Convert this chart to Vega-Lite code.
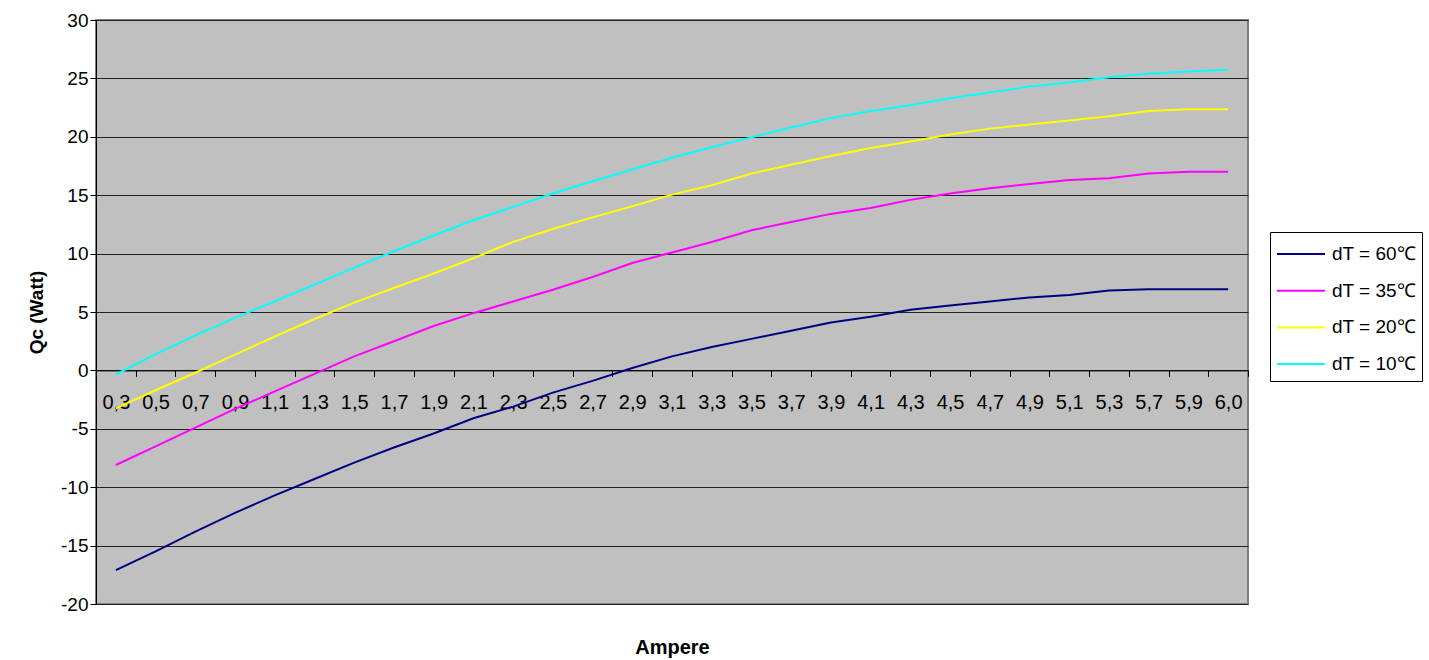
{
  "$schema": "https://vega.github.io/schema/vega-lite/v6.json",
  "autosize": {"type": "none"},
  "padding": {"left": 96, "top": 20, "right": 181, "bottom": 56},
  "width": 1152,
  "height": 584,
  "background": "#ffffff",
  "config": {
    "font": "Liberation Sans",
    "view": {"fill": "#C0C0C0", "stroke": "#808080", "strokeWidth": 2}
  },
  "data": {"values": [
    {"A":"0,3","s":"dT = 60℃","q":-17.1},{"A":"0,5","s":"dT = 60℃","q":-15.5},{"A":"0,7","s":"dT = 60℃","q":-13.8},{"A":"0,9","s":"dT = 60℃","q":-12.2},{"A":"1,1","s":"dT = 60℃","q":-10.7},{"A":"1,3","s":"dT = 60℃","q":-9.3},{"A":"1,5","s":"dT = 60℃","q":-7.9},{"A":"1,7","s":"dT = 60℃","q":-6.6},{"A":"1,9","s":"dT = 60℃","q":-5.4},{"A":"2,1","s":"dT = 60℃","q":-4.1},{"A":"2,3","s":"dT = 60℃","q":-3.1},{"A":"2,5","s":"dT = 60℃","q":-1.9},{"A":"2,7","s":"dT = 60℃","q":-0.9},{"A":"2,9","s":"dT = 60℃","q":0.2},{"A":"3,1","s":"dT = 60℃","q":1.2},{"A":"3,3","s":"dT = 60℃","q":2.0},{"A":"3,5","s":"dT = 60℃","q":2.7},{"A":"3,7","s":"dT = 60℃","q":3.4},{"A":"3,9","s":"dT = 60℃","q":4.1},{"A":"4,1","s":"dT = 60℃","q":4.6},{"A":"4,3","s":"dT = 60℃","q":5.2},{"A":"4,5","s":"dT = 60℃","q":5.55},{"A":"4,7","s":"dT = 60℃","q":5.9},{"A":"4,9","s":"dT = 60℃","q":6.25},{"A":"5,1","s":"dT = 60℃","q":6.45},{"A":"5,3","s":"dT = 60℃","q":6.85},{"A":"5,7","s":"dT = 60℃","q":6.95},{"A":"5,9","s":"dT = 60℃","q":6.95},{"A":"6,0","s":"dT = 60℃","q":6.95},
    {"A":"0,3","s":"dT = 35℃","q":-8.1},{"A":"0,5","s":"dT = 35℃","q":-6.5},{"A":"0,7","s":"dT = 35℃","q":-4.9},{"A":"0,9","s":"dT = 35℃","q":-3.3},{"A":"1,1","s":"dT = 35℃","q":-1.8},{"A":"1,3","s":"dT = 35℃","q":-0.3},{"A":"1,5","s":"dT = 35℃","q":1.2},{"A":"1,7","s":"dT = 35℃","q":2.5},{"A":"1,9","s":"dT = 35℃","q":3.8},{"A":"2,1","s":"dT = 35℃","q":4.9},{"A":"2,3","s":"dT = 35℃","q":5.9},{"A":"2,5","s":"dT = 35℃","q":6.9},{"A":"2,7","s":"dT = 35℃","q":8.0},{"A":"2,9","s":"dT = 35℃","q":9.2},{"A":"3,1","s":"dT = 35℃","q":10.1},{"A":"3,3","s":"dT = 35℃","q":11.0},{"A":"3,5","s":"dT = 35℃","q":12.0},{"A":"3,7","s":"dT = 35℃","q":12.7},{"A":"3,9","s":"dT = 35℃","q":13.4},{"A":"4,1","s":"dT = 35℃","q":13.9},{"A":"4,3","s":"dT = 35℃","q":14.6},{"A":"4,5","s":"dT = 35℃","q":15.15},{"A":"4,7","s":"dT = 35℃","q":15.6},{"A":"4,9","s":"dT = 35℃","q":15.95},{"A":"5,1","s":"dT = 35℃","q":16.3},{"A":"5,3","s":"dT = 35℃","q":16.45},{"A":"5,7","s":"dT = 35℃","q":16.85},{"A":"5,9","s":"dT = 35℃","q":17.0},{"A":"6,0","s":"dT = 35℃","q":17.0},
    {"A":"0,3","s":"dT = 20℃","q":-3.25},{"A":"0,5","s":"dT = 20℃","q":-1.7},{"A":"0,7","s":"dT = 20℃","q":-0.2},{"A":"0,9","s":"dT = 20℃","q":1.35},{"A":"1,1","s":"dT = 20℃","q":2.9},{"A":"1,3","s":"dT = 20℃","q":4.4},{"A":"1,5","s":"dT = 20℃","q":5.8},{"A":"1,7","s":"dT = 20℃","q":7.05},{"A":"1,9","s":"dT = 20℃","q":8.3},{"A":"2,1","s":"dT = 20℃","q":9.6},{"A":"2,3","s":"dT = 20℃","q":11.0},{"A":"2,5","s":"dT = 20℃","q":12.1},{"A":"2,7","s":"dT = 20℃","q":13.1},{"A":"2,9","s":"dT = 20℃","q":14.05},{"A":"3,1","s":"dT = 20℃","q":15.05},{"A":"3,3","s":"dT = 20℃","q":15.85},{"A":"3,5","s":"dT = 20℃","q":16.85},{"A":"3,7","s":"dT = 20℃","q":17.6},{"A":"3,9","s":"dT = 20℃","q":18.35},{"A":"4,1","s":"dT = 20℃","q":19.05},{"A":"4,3","s":"dT = 20℃","q":19.6},{"A":"4,5","s":"dT = 20℃","q":20.2},{"A":"4,7","s":"dT = 20℃","q":20.7},{"A":"4,9","s":"dT = 20℃","q":21.05},{"A":"5,1","s":"dT = 20℃","q":21.4},{"A":"5,3","s":"dT = 20℃","q":21.75},{"A":"5,7","s":"dT = 20℃","q":22.2},{"A":"5,9","s":"dT = 20℃","q":22.35},{"A":"6,0","s":"dT = 20℃","q":22.35},
    {"A":"0,3","s":"dT = 10℃","q":-0.35},{"A":"0,5","s":"dT = 10℃","q":1.4},{"A":"0,7","s":"dT = 10℃","q":3.0},{"A":"0,9","s":"dT = 10℃","q":4.5},{"A":"1,1","s":"dT = 10℃","q":5.9},{"A":"1,3","s":"dT = 10℃","q":7.35},{"A":"1,5","s":"dT = 10℃","q":8.8},{"A":"1,7","s":"dT = 10℃","q":10.2},{"A":"1,9","s":"dT = 10℃","q":11.55},{"A":"2,1","s":"dT = 10℃","q":12.85},{"A":"2,3","s":"dT = 10℃","q":14.0},{"A":"2,5","s":"dT = 10℃","q":15.15},{"A":"2,7","s":"dT = 10℃","q":16.2},{"A":"2,9","s":"dT = 10℃","q":17.2},{"A":"3,1","s":"dT = 10℃","q":18.2},{"A":"3,3","s":"dT = 10℃","q":19.1},{"A":"3,5","s":"dT = 10℃","q":19.95},{"A":"3,7","s":"dT = 10℃","q":20.8},{"A":"3,9","s":"dT = 10℃","q":21.6},{"A":"4,1","s":"dT = 10℃","q":22.2},{"A":"4,3","s":"dT = 10℃","q":22.7},{"A":"4,5","s":"dT = 10℃","q":23.3},{"A":"4,7","s":"dT = 10℃","q":23.8},{"A":"4,9","s":"dT = 10℃","q":24.3},{"A":"5,1","s":"dT = 10℃","q":24.65},{"A":"5,3","s":"dT = 10℃","q":25.1},{"A":"5,7","s":"dT = 10℃","q":25.4},{"A":"5,9","s":"dT = 10℃","q":25.6},{"A":"6,0","s":"dT = 10℃","q":25.75}
  ]},
  "mark": {"type": "line", "strokeWidth": 2},
  "encoding": {
    "x": {
      "field": "A", "type": "ordinal", "sort": null, "bandPosition": 0.5,
      "scale": {"type": "band", "paddingInner": 0, "paddingOuter": 0},
      "axis": {
        "orient": "bottom", "offset": -233.6, "tickBand": "extent",
        "labelAngle": 0, "labelFontSize": 20, "labelColor": "#000", "labelPadding": 16,
        "tickSize": 6, "tickColor": "#000", "domainColor": "#000", "domainWidth": 1,
        "grid": false, "title": "Ampere", "titleFontSize": 20, "titleFontWeight": "bold",
        "titleColor": "#000", "titleY": 277, "titleBaseline": "middle"
      }
    },
    "y": {
      "field": "q", "type": "quantitative",
      "scale": {"domain": [-20, 30], "nice": false, "zero": false},
      "axis": {
        "values": [-20, -15, -10, -5, 0, 5, 10, 15, 20, 25, 30],
        "labelExpr": "datum.value + ''",
        "labelFontSize": 19, "labelColor": "#000", "labelPadding": 2,
        "tickSize": 6, "tickColor": "#000", "domainColor": "#000", "domainWidth": 1,
        "grid": true, "gridColor": "#222", "gridWidth": 1,
        "title": "Qc (Watt)", "titleFontSize": 19, "titleFontWeight": "bold",
        "titleColor": "#000", "titlePadding": 14
      }
    },
    "color": {
      "field": "s", "type": "nominal",
      "scale": {
        "domain": ["dT = 60℃", "dT = 35℃", "dT = 20℃", "dT = 10℃"],
        "range": ["#000080", "#FF00FF", "#FFFF00", "#00FFFF"]
      },
      "legend": {
        "title": null, "orient": "none", "legendX": 1174, "legendY": 212,
        "strokeColor": "#000", "fillColor": "#ffffff", "padding": 6,
        "symbolType": "M-1.6,0H1.6", "symbolSize": 900, "symbolStrokeWidth": 2,
        "symbolOffset": 9, "labelOffset": 15, "rowPadding": 10.7,
        "labelFontSize": 19, "labelColor": "#000", "labelLimit": 300
      }
    }
  }
}
